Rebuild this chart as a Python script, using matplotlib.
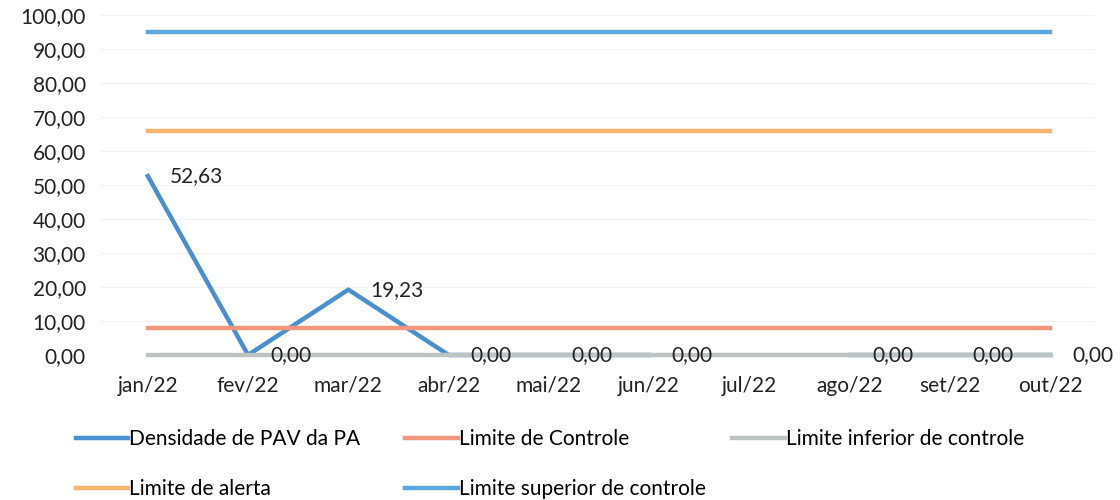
import numpy as np
import matplotlib
matplotlib.use("Agg")
import matplotlib.pyplot as plt

# data
months = ["jan/22", "fev/22", "mar/22", "abr/22", "mai/22", "jun/22",
          "jul/22", "ago/22", "set/22", "out/22"]
densidade = [52.63, 0.00, 19.23, 0.00, 0.00, 0.00, np.nan, 0.00, 0.00, 0.00]
limite_controle = [8] * 10
limite_inferior = [0] * 10
limite_alerta = [66] * 10
limite_superior = [95] * 10

plt.rcParams['font.family'] = ['Lato', 'DejaVu Sans']
fs = 15

fig = plt.figure(figsize=(11.2, 5), dpi=100)
ax = fig.add_axes([0.089, 0.29, 0.889, 0.68])

x = np.arange(len(months))
lw = 3.2
l1, = ax.plot(x, densidade, color="#4a8fcf", lw=lw, label="Densidade de PAV da PA", zorder=3, clip_on=False)
l2, = ax.plot(x, limite_controle, color="#f1977e", lw=lw, label="Limite de Controle", zorder=4, clip_on=False)
l3, = ax.plot(x, limite_inferior, color="#bcc3c0", lw=lw, label="Limite inferior de controle", zorder=4, clip_on=False)
l4, = ax.plot(x, limite_alerta, color="#f8b56e", lw=lw, label="Limite de alerta", zorder=4, clip_on=False)
l5, = ax.plot(x, limite_superior, color="#5ca7de", lw=lw, label="Limite superior de controle", zorder=4, clip_on=False)

# data labels to the right of the points
for xi, v in zip(x, densidade):
    if np.isnan(v):
        continue
    ax.annotate(f"{v:.2f}".replace(".", ","), (xi, v), xytext=(16, 0),
                textcoords="offset points", ha="left", va="center",
                fontsize=fs, color="#222222", zorder=5)

ax.set_ylim(0, 100)
ax.set_yticks(np.arange(0, 101, 10))
ax.set_yticklabels([f"{t:.2f}".replace(".", ",") for t in np.arange(0, 101, 10)])
ax.set_xlim(-0.48, 9.45)
ax.set_xticks(x)
ax.set_xticklabels(months)
ax.tick_params(axis="both", length=0, labelsize=fs, colors="#222222")
ax.tick_params(axis="x", pad=15)
ax.tick_params(axis="y", pad=10)
ax.grid(axis="y", color="#f2f2f2", lw=0.8)
ax.set_axisbelow(True)
for s in ax.spines.values():
    s.set_visible(False)

# legend laid out as three columns, like the reference
legend_cols = [([l1, l4], 0.068), ([l2, l5], 0.362), ([l3], 0.654)]
for handles, xpos in legend_cols:
    fig.legend(handles=handles, loc="upper left", bbox_to_anchor=(xpos, 0.142),
               frameon=False, fontsize=fs, handlelength=2.5, handletextpad=0.05,
               labelspacing=1.45, borderaxespad=0, borderpad=0)

plt.savefig("out.png", dpi=100)
